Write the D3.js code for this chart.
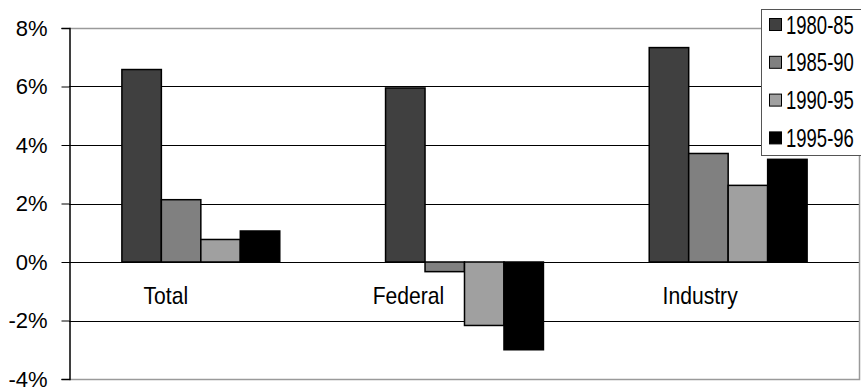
<!DOCTYPE html>
<html>
<head>
<meta charset="utf-8">
<script src="https://cdn.jsdelivr.net/npm/d3@7"></script>
<style>
  html, body { margin: 0; padding: 0; background: #fff; }
  svg { display: block; }
  text { font-family: "Liberation Sans", Arial, sans-serif; fill: #000; }
</style>
</head>
<body>
<svg id="chart" width="861" height="390"></svg>
<script>
// ---- data ----
const categories = ["Total", "Federal", "Industry"];
const seriesNames = ["1980-85", "1985-90", "1990-95", "1995-96"];
const series1980_85 = [6.58, 5.95, 7.33];
const series1985_90 = [2.13, -0.33, 3.71];
const series1990_95 = [0.77, -2.17, 2.62];
const series1995_96 = [1.06, -3.0, 3.51];
const yTicks = [-4, -2, 0, 2, 4, 6, 8];

// ---- styles / layout ----
const seriesColors = ["#404040", "#808080", "#a0a0a0", "#000000"];
const labelDx = [-35, -56, -28];   // Excel-style label nudges relative to group centre

const svg = d3.select("#chart");
const W = 861, H = 390;
const margin = { left: 69, right: 1, top: 28, bottom: 11 };
const plotL = margin.left, plotR = W - margin.right, plotT = margin.top, plotB = H - margin.bottom;

const values = [series1980_85, series1985_90, series1990_95, series1995_96];
const table = categories.map((c, i) => ({
  cat: c,
  vals: seriesNames.map((s, j) => ({ s, j, v: values[j][i] }))
}));

const y = d3.scaleLinear().domain([-4, 8]).range([plotB, plotT]);
const x0 = d3.scaleBand().domain(categories).range([plotL, plotR]).padding(0);
const x1 = d3.scaleBand().domain(seriesNames).range([0, x0.bandwidth()])
  .paddingInner(0).paddingOuter(1.34);

// gridlines
svg.append("g").selectAll("line")
  .data(yTicks.filter(t => t !== -4 && t !== 8))
  .join("line")
  .attr("x1", plotL).attr("x2", plotR)
  .attr("y1", d => Math.round(y(d)) + 0.5).attr("y2", d => Math.round(y(d)) + 0.5)
  .attr("stroke", "#000").attr("stroke-width", 1);

// plot border (top, bottom, right) in grey
svg.append("path")
  .attr("d", `M${plotL},${Math.round(y(8)) + 0.5}H${plotR - 0.5}V${Math.round(y(-4)) + 0.5}H${plotL}`)
  .attr("fill", "none").attr("stroke", "#9a9a9a").attr("stroke-width", 1.5);

// bars
const groups = svg.append("g").selectAll("g")
  .data(table).join("g")
  .attr("transform", d => `translate(${x0(d.cat)},0)`);

groups.selectAll("rect")
  .data(d => d.vals).join("rect")
  .attr("x", d => x1(d.s))
  .attr("width", x1.bandwidth())
  .attr("y", d => y(Math.max(0, d.v)))
  .attr("height", d => Math.abs(y(d.v) - y(0)))
  .attr("fill", d => seriesColors[d.j])
  .attr("stroke", "#000").attr("stroke-width", 1.5);

// y axis
const yAxis = d3.axisLeft(y).tickValues(yTicks).tickSize(8).tickPadding(14)
  .tickFormat(d => d + "%");
const ya = svg.append("g").attr("transform", `translate(${plotL + 0.5},0)`).call(yAxis);
ya.select(".domain").attr("stroke", "#000").attr("stroke-width", 1.5);
ya.selectAll(".tick line").attr("stroke", "#000");
ya.selectAll(".tick text").attr("font-size", 22).style("font-family", null);

// category labels (condensed look via horizontal scaling)
svg.append("g").selectAll("g")
  .data(categories).join("g")
  .attr("transform", (d, i) => `translate(${x0(d) + x0.bandwidth() / 2 + labelDx[i]},${y(0) + 42})`)
  .append("text")
  .attr("transform", "scale(0.88,1)")
  .attr("text-anchor", "middle")
  .attr("font-size", 24)
  .text(d => d);

// legend
const lg = svg.append("g").attr("transform", "translate(761,9)");
lg.append("rect").attr("x", 0.5).attr("y", 0.5).attr("width", 110).attr("height", 146)
  .attr("fill", "#fff").attr("stroke", "#555").attr("stroke-width", 1);
const items = lg.selectAll("g.item").data(seriesNames).join("g")
  .attr("class", "item")
  .attr("transform", (d, i) => `translate(8.5,${9.5 + i * 37.8})`);
items.append("rect").attr("width", 12).attr("height", 12)
  .attr("fill", (d, i) => seriesColors[i]).attr("stroke", "#000").attr("stroke-width", 1);
items.append("g").attr("transform", "translate(16.5,6)")
  .append("text").attr("transform", "scale(0.74,1)").attr("dy", "0.36em")
  .attr("font-size", 25).text(d => d);
</script>
</body>
</html>
